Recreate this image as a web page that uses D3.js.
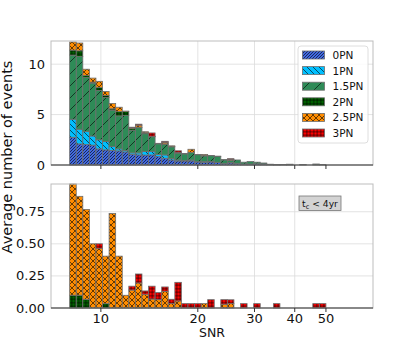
<!DOCTYPE html>
<html>
<head>
<meta charset="utf-8">
<style>
  body { margin: 0; background: #fff; }
  svg { display: block; font-family: "DejaVu Sans", sans-serif; }
</style>
</head>
<body>
<svg width="415" height="346"></svg>
<script src="https://d3js.org/d3.v7.min.js"></script>
<script>

// log-spaced SNR bins, 8 .. 50
const snrEdges = d3.range(40).map(i => 8 * Math.pow(50 / 8, i / 39));

const pnLabels = ["0PN", "1PN", "1.5PN", "2PN", "2.5PN", "3PN"];
const xTicks = [10, 20, 30, 40, 50];
const topTicks = [0, 5, 10];
const bottomTicks = [0, 0.25, 0.5, 0.75];

// top panel: all events
const pn0  = [2.75,2.09,2.03,1.97,1.6,1.5,1.45,1.4,1.3,1.05,1.0,0.99,1.0,0.83,0.67,0.5,0.4,0.4,0.4,0.3,0.25,0.3,0.25,0.15,0.2,0.15,0.1,0.1,0.12,0.1,0,0.02,0,0,0,0,0,0,0];
const pn1  = [1.79,1.46,1.28,0.91,0.9,0.82,0.4,0.2,0.15,0.15,0.2,0.34,0.33,0.23,0.33,0.15,0.1,0.05,0.1,0.05,0.1,0.05,0.03,0.02,0.05,0.02,0,0,0,0,0,0,0,0,0,0,0,0,0];
const pn15 = [6.36,7.22,5.37,5.24,4.9,4.38,3.6,3.27,3.45,2.25,2.5,1.77,1.47,1.04,1.05,1.15,0.69,0.65,0.76,0.67,0.55,0.57,0.57,0.33,0.2,0.33,0.18,0.25,0.16,0.1,0.08,0.03,0.04,0.08,0,0.05,0,0.1,0.05];
const pn2  = [0.5,0.56,0.2,0.1,0.3,0.2,0.13,0.43,0.4,0.2,0.05,0.1,0.02,0.05,0.05,0.05,0.02,0.05,0,0.03,0.05,0.02,0.03,0.03,0,0,0,0,0,0,0,0,0,0,0,0,0,0,0];
const pn25 = [0.8,0.77,0.62,0.4,0.6,0.4,0.52,0.43,0.05,0.07,0.2,0.1,0.03,0,0.15,0.05,0.02,0,0.3,0,0.1,0,0,0,0.1,0,0,0,0,0,0,0,0,0,0,0,0,0,0];
const pn3  = [0,0,0,0,0,0,0,0,0,0.03,0.1,0,0.33,0,0.1,0,0.18,0,0,0,0,0,0,0,0.08,0,0,0,0,0,0,0,0,0,0,0,0,0,0];

// bottom panel: t_c < 4yr
const late2  = [0.1,0.1,0.068,0,0,0.034,0,0,0,0,0,0,0,0,0,0,0,0,0,0,0,0,0,0,0,0,0,0,0,0,0,0,0,0,0,0,0,0,0];
const late25 = [0.866,0.77,0.70,0.5,0.465,0.37,0.737,0.404,0.099,0.14,0.195,0.107,0.07,0.065,0.13,0.034,0.055,0,0,0,0.034,0,0,0.03,0.034,0,0,0,0,0,0,0,0,0,0,0,0,0,0];
const late3  = [0,0,0,0,0.035,0,0,0,0,0.03,0.07,0.026,0.1,0.055,0.034,0.034,0.145,0.034,0.034,0.034,0,0.065,0,0.035,0.03,0,0.034,0,0.034,0,0,0.034,0,0,0,0,0,0.034,0.034];

const svg = d3.select("svg");
const defs = svg.append("defs");

// matplotlib-like hatches
const hatches = {
  "0PN":   { fill: "royalblue",   kind: "fwd",   s: 3 },
  "1PN":   { fill: "deepskyblue", kind: "back",  s: 6 },
  "1.5PN": { fill: "seagreen",    kind: "fwd",   s: 12 },
  "2PN":   { fill: "darkgreen",   kind: "grid",  s: 3.5 },
  "2.5PN": { fill: "darkorange",  kind: "cross", s: 6 },
  "3PN":   { fill: "red",         kind: "grid",  s: 3.5 }
};

function hatchId(k) { return "h" + k.replace(".", "_"); }

Object.entries(hatches).forEach(([k, h]) => {
  const s = h.s;
  const p = defs.append("pattern")
    .attr("id", hatchId(k))
    .attr("patternUnits", "userSpaceOnUse")
    .attr("width", s).attr("height", s);
  p.append("rect").attr("width", s).attr("height", s).attr("fill", h.fill);
  const fwd = `M-1,1 l2,-2 M0,${s} l${s},${-s} M${s - 1},${s + 1} l2,-2`;
  const back = `M-1,${s - 1} l2,2 M0,0 l${s},${s} M${s - 1},-1 l2,2`;
  let d;
  if (h.kind === "fwd") d = fwd;
  else if (h.kind === "back") d = back;
  else if (h.kind === "cross") d = fwd + " " + back;
  else d = `M0,${s / 2} H${s} M${s / 2},0 V${s}`;
  p.append("path").attr("d", d)
    .attr("stroke", "#000").attr("stroke-width", 0.6).attr("fill", "none");
});

const left = 51, right = 373;
const x = d3.scaleLog().domain([7, 70]).range([left, right]);
const yTop = d3.scaleLinear().domain([0, 12.3]).range([165, 41]);
const yBot = d3.scaleLinear().domain([0, 0.966]).range([308, 184]);

function panel(y, ticks, fmt, keys, rows) {
  const g = svg.append("g");
  const [y0, y1] = y.range();

  // grid
  g.selectAll(".gx").data(xTicks.filter(t => t < 50)).enter().append("line")
    .attr("x1", d => x(d)).attr("x2", d => x(d))
    .attr("y1", y1).attr("y2", y0)
    .attr("stroke", "#dcdcdc").attr("stroke-width", 0.8);
  g.selectAll(".gy").data(ticks.filter(t => t > 0)).enter().append("line")
    .attr("x1", left).attr("x2", right)
    .attr("y1", d => y(d)).attr("y2", d => y(d))
    .attr("stroke", "#dcdcdc").attr("stroke-width", 0.8);

  // stacked bars
  const series = d3.stack().keys(keys)(rows);
  g.selectAll(".layer").data(series).enter().append("g")
    .attr("fill", d => "url(#" + hatchId(d.key) + ")")
    .selectAll("rect")
    .data(d => d.filter(v => v[1] - v[0] > 0))
    .enter().append("rect")
    .attr("x", d => x(snrEdges[d.data.bin]))
    .attr("width", d => x(snrEdges[d.data.bin + 1]) - x(snrEdges[d.data.bin]))
    .attr("y", d => y(d[1]))
    .attr("height", d => y(d[0]) - y(d[1]))
    .attr("stroke", "#6e6e6e").attr("stroke-width", 0.8);

  // frame
  g.append("rect").attr("x", left).attr("y", y1)
    .attr("width", right - left).attr("height", y0 - y1)
    .attr("fill", "none").attr("stroke", "#bdbdbd").attr("stroke-width", 1);
  g.append("line").attr("x1", left).attr("x2", right)
    .attr("y1", y0).attr("y2", y0).attr("stroke", "#333").attr("stroke-width", 1);

  // x ticks
  g.selectAll(".tx").data(xTicks).enter().append("line")
    .attr("x1", d => x(d)).attr("x2", d => x(d))
    .attr("y1", y0).attr("y2", y0 + 4)
    .attr("stroke", "#333").attr("stroke-width", 1);

  // y tick labels
  g.selectAll(".ty").data(ticks).enter().append("text")
    .attr("x", left - 6).attr("y", d => y(d) + 4.5)
    .attr("text-anchor", "end").attr("font-size", 13).attr("fill", "#111")
    .text(fmt);
  return g;
}

const topRows = snrEdges.slice(0, -1).map((e, i) => ({
  bin: i, "0PN": pn0[i], "1PN": pn1[i], "1.5PN": pn15[i],
  "2PN": pn2[i], "2.5PN": pn25[i], "3PN": pn3[i]
}));
const botRows = snrEdges.slice(0, -1).map((e, i) => ({
  bin: i, "2PN": late2[i], "2.5PN": late25[i], "3PN": late3[i]
}));

panel(yTop, topTicks, d => d, pnLabels, topRows);
panel(yBot, bottomTicks, d3.format(".2f"), ["2PN", "2.5PN", "3PN"], botRows);

// x tick labels (bottom panel only)
svg.append("g").selectAll("text").data(xTicks).enter().append("text")
  .attr("x", d => x(d)).attr("y", 323)
  .attr("text-anchor", "middle").attr("font-size", 13).attr("fill", "#111")
  .text(d => d);

svg.append("text").attr("x", (left + right) / 2).attr("y", 337)
  .attr("text-anchor", "middle").attr("font-size", 12.5).attr("fill", "#111")
  .text("SNR");

svg.append("text")
  .attr("transform", "translate(12,157) rotate(-90)")
  .attr("text-anchor", "middle").attr("font-size", 14.5).attr("fill", "#111")
  .text("Average number of events");

// legend
const lg = svg.append("g").attr("transform", "translate(298,46)");
lg.append("rect").attr("width", 70).attr("height", 97).attr("rx", 3)
  .attr("fill", "#fff").attr("fill-opacity", 0.85)
  .attr("stroke", "#d6d6d6").attr("stroke-width", 0.8);
pnLabels.forEach((k, i) => {
  const yy = 9 + i * 15.6;
  lg.append("rect").attr("x", 4.5).attr("y", yy - 4).attr("width", 22).attr("height", 8)
    .attr("fill", "url(#" + hatchId(k) + ")").attr("stroke", "#6e6e6e").attr("stroke-width", 0.8);
  lg.append("text").attr("x", 34.5).attr("y", yy + 4)
    .attr("font-size", 10.5).attr("fill", "#111").text(k);
});

// annotation box
const ab = svg.append("g").attr("transform", "translate(299,196)");
ab.append("rect").attr("width", 42).attr("height", 14.5)
  .attr("fill", "#d3d3d3").attr("stroke", "#777").attr("stroke-width", 0.8);
const at = ab.append("text").attr("x", 21).attr("y", 10.8)
  .attr("text-anchor", "middle")
  .attr("font-size", 9.2).attr("fill", "#111");
at.append("tspan").text("t");
at.append("tspan").attr("font-size", 6.5).attr("dy", 2).text("c");
at.append("tspan").attr("dy", -2).text(" < 4yr");

</script>
</body>
</html>
